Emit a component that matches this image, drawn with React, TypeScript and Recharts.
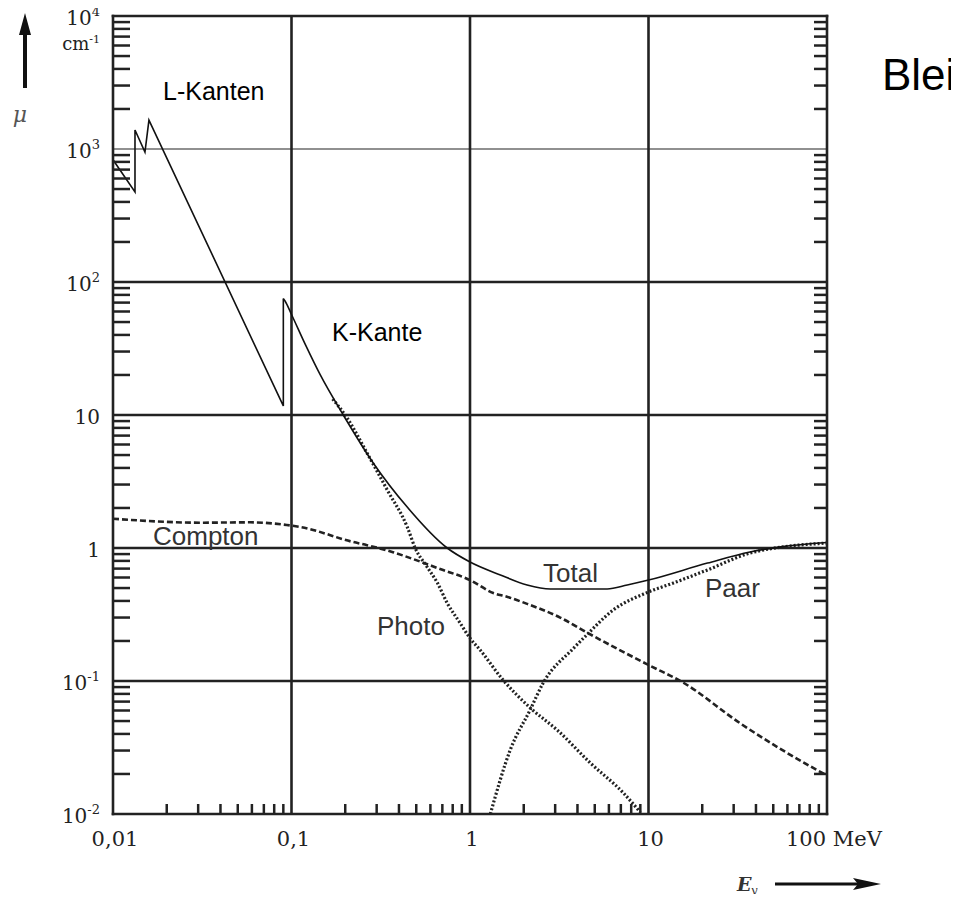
import { LineChart, Line, XAxis, YAxis, ReferenceLine } from "recharts";

// Bleiabsorption: mu in cm^-1 over photon energy in MeV
const totalEnergy = [0.01, 0.01328, 0.01328, 0.0151, 0.0159, 0.09, 0.09, 0.092, 0.1, 0.12, 0.145, 0.195, 0.287, 0.445, 0.745, 1, 1.48, 2.09, 2.82, 5.87, 7.6, 10, 21.4, 37, 55, 100];
const totalMu = [830, 475, 1390, 949, 1650, 11.7, 75, 72, 57, 33.5, 20, 10, 4.36, 2.03, 1.0, 0.785, 0.627, 0.527, 0.492, 0.492, 0.527, 0.574, 0.77, 0.933, 1.02, 1.1];

const photoEnergy = [0.17, 0.205, 0.265, 0.344, 0.445, 0.493, 0.575, 0.655, 0.745, 0.88, 1, 1.14, 1.53, 2.17, 3.08, 4.72, 7.23, 9.0];
const photoMu = [13.2, 9.5, 5.17, 2.73, 1.44, 1.0, 0.72, 0.55, 0.386, 0.273, 0.21, 0.171, 0.102, 0.063, 0.0428, 0.0242, 0.0144, 0.0103];

const comptonEnergy = [0.01, 0.031, 0.0586, 0.094, 0.112, 0.221, 0.265, 0.37, 0.48, 0.68, 1, 1.35, 1.61, 2.09, 3.2, 4.3, 10, 15.7, 32.7, 88, 100];
const comptonMu = [1.66, 1.55, 1.56, 1.49, 1.44, 1.11, 1.05, 0.93, 0.826, 0.695, 0.574, 0.459, 0.43, 0.38, 0.3, 0.24, 0.132, 0.097, 0.048, 0.0214, 0.0195];

const paarEnergy = [1.3, 1.68, 2.17, 2.57, 3.78, 4.4, 6.35, 10, 13.8, 21.4, 37.2, 100];
const paarMu = [0.01, 0.0303, 0.0605, 0.0966, 0.175, 0.215, 0.342, 0.467, 0.546, 0.684, 0.917, 1.09];

const xMajorTicks = [0.01, 0.1, 1, 10, 100];
const xMajorLabels = ["0,01", "0,1", "1", "10", "100 MeV"];
const yMajorTicks = [0.01, 0.1, 1, 10, 100, 1000, 10000];
const yMajorBase = ["10", "10", "1", "10", "10", "10", "10"];
const yMajorExp = ["-2", "-1", "", "", "2", "3", "4"];

const W = 959;
const H = 902;
const INK = "#222";
const LABEL = "#222";
const SERIF = "'DejaVu Serif', serif";
const SANS = "'Liberation Sans', Arial, sans-serif";

// 1..9 per decade between the major ticks
function withMinors(majors: number[]) {
  const out: number[] = [];
  for (let i = 0; i < majors.length - 1; i++) {
    for (let k = 1; k < 10; k++) out.push(majors[i] * k);
  }
  out.push(majors[majors.length - 1]);
  return out;
}

const xTicks = withMinors(xMajorTicks);
const yTicks = withMinors(yMajorTicks);

const toPoints = (es: number[], ms: number[]) => es.map((e, i) => ({ e, mu: ms[i] }));
const totalData = toPoints(totalEnergy, totalMu);
// the edges are vertical jumps, so draw them straight and smooth the rest
const kEdgeTop = 6;
const totalEdges = totalData.slice(0, kEdgeTop + 1);
const totalSmooth = totalData.slice(kEdgeTop);
const photoData = toPoints(photoEnergy, photoMu);
const comptonData = toPoints(comptonEnergy, comptonMu);
const paarData = toPoints(paarEnergy, paarMu);

const border = { stroke: INK, strokeWidth: 2.6, strokeLinecap: "square" as const };

function BottomTick(props: any) {
  const { x, y, payload } = props;
  const idx = xMajorTicks.indexOf(payload.value);
  if (idx < 0) {
    return <line x1={x} x2={x} y1={y} y2={y - 10} stroke={INK} strokeWidth={2.5} />;
  }
  const last = idx === xMajorTicks.length - 1;
  return (
    <text
      x={last ? x - 41 : x + 2}
      y={y + 32}
      textAnchor={last ? "start" : "middle"}
      fontFamily={SERIF}
      fontSize={21}
      fill={LABEL}
    >
      {xMajorLabels[idx]}
    </text>
  );
}

function TopTick(props: any) {
  const { x, y, payload } = props;
  if (xMajorTicks.includes(payload.value)) return <g />;
  return <line x1={x} x2={x} y1={y} y2={y + 10} stroke={INK} strokeWidth={2.5} />;
}

function LeftTick(props: any) {
  const { x, y, payload } = props;
  const idx = yMajorTicks.indexOf(payload.value);
  if (idx < 0) {
    return <line x1={x} x2={x + 17} y1={y} y2={y} stroke={INK} strokeWidth={2.5} />;
  }
  return (
    <g>
      <text x={x - 13} y={y + 9} textAnchor="end" fontFamily={SERIF} fontSize={20} fill={LABEL}>
        {yMajorBase[idx]}
        {yMajorExp[idx] && (
          <tspan fontSize={13} dy={-9}>
            {yMajorExp[idx]}
          </tspan>
        )}
      </text>
      {idx === yMajorTicks.length - 1 && (
        <text x={x - 13} y={y + 34} textAnchor="end" fontFamily={SERIF} fontSize={18} fill={LABEL}>
          cm
          <tspan fontSize={11} dy={-7}>
            -1
          </tspan>
        </text>
      )}
    </g>
  );
}

function RightTick(props: any) {
  const { x, y, payload } = props;
  if (yMajorTicks.includes(payload.value)) return <g />;
  return <line x1={x} x2={x - 13} y1={y} y2={y} stroke={INK} strokeWidth={2.5} />;
}

export default function App() {
  const gridY = yMajorTicks.filter((v) => v > 0.01 && v < 10000);
  const gridX = xMajorTicks.filter((v) => v > 0.01 && v < 100);
  return (
    <div style={{ position: "relative", width: W, height: H, margin: -8 }}>
      <LineChart width={W} height={H} margin={{ top: 15, right: 131, bottom: 87, left: 112 }}>
        <XAxis
          dataKey="e"
          type="number"
          scale="log"
          domain={[0.01, 100]}
          allowDataOverflow
          ticks={xTicks}
          interval={0}
          tickSize={0}
          tickMargin={0}
          height={1}
          tickLine={false}
          axisLine={border}
          tick={BottomTick}
        />
        <XAxis
          xAxisId="top"
          orientation="top"
          type="number"
          scale="log"
          domain={[0.01, 100]}
          allowDataOverflow
          ticks={xTicks}
          interval={0}
          tickSize={0}
          tickMargin={0}
          height={1}
          tickLine={false}
          axisLine={border}
          tick={TopTick}
        />
        <YAxis
          type="number"
          scale="log"
          domain={[0.01, 10000]}
          allowDataOverflow
          ticks={yTicks}
          interval={0}
          tickSize={0}
          tickMargin={0}
          width={1}
          tickLine={false}
          axisLine={border}
          tick={LeftTick}
        />
        <YAxis
          yAxisId="right"
          orientation="right"
          type="number"
          scale="log"
          domain={[0.01, 10000]}
          allowDataOverflow
          ticks={yTicks}
          interval={0}
          tickSize={0}
          tickMargin={0}
          width={1}
          tickLine={false}
          axisLine={border}
          tick={RightTick}
        />
        {gridY.map((v) => (
          <ReferenceLine key={"gy" + v} y={v} stroke={INK} strokeWidth={v === 1000 ? 1.2 : 2.6} />
        ))}
        {gridX.map((v) => (
          <ReferenceLine key={"gx" + v} x={v} stroke={INK} strokeWidth={2.6} />
        ))}
        <Line data={comptonData} dataKey="mu" type="monotone" stroke="#222" strokeWidth={2.6} strokeDasharray="6 3" dot={false} isAnimationActive={false} />
        <Line data={photoData} dataKey="mu" type="monotone" stroke="#222" strokeWidth={3.2} strokeDasharray="2 2" dot={false} isAnimationActive={false} />
        <Line data={paarData} dataKey="mu" type="monotone" stroke="#222" strokeWidth={3.2} strokeDasharray="2 2" dot={false} isAnimationActive={false} />
        <Line data={totalEdges} dataKey="mu" type="linear" stroke="#111" strokeWidth={1.6} dot={false} isAnimationActive={false} />
        <Line data={totalSmooth} dataKey="mu" type="monotone" stroke="#111" strokeWidth={1.6} dot={false} isAnimationActive={false} />
      </LineChart>
      <svg
        width={W}
        height={H}
        style={{ position: "absolute", left: 0, top: 0, overflow: "visible", pointerEvents: "none" }}
      >
        {/* y axis arrow with mu */}
        <line x1={25} x2={25} y1={88} y2={30} stroke="#111" strokeWidth={4} />
        <polygon points="25,13 19,35 31,35" fill="#111" />
        <text x={20} y={122} textAnchor="middle" fontFamily={SERIF} fontStyle="italic" fontSize={22} fill="#555">
          μ
        </text>
        {/* x axis arrow with E_gamma */}
        <text x={737} y={891} fontFamily={SERIF} fontStyle="italic" fontWeight="bold" fontSize={19} fill="#333">
          E
          <tspan fontSize={14} dy={4} fontWeight="normal" fontStyle="normal" fontFamily="'Liberation Serif', serif">
            γ
          </tspan>
        </text>
        <line x1={775} x2={858} y1={884} y2={884} stroke="#111" strokeWidth={3} />
        <polygon points="881,884 853,878 858,884 853,890" fill="#111" />
        {/* annotations */}
        <text x={163} y={100} fontFamily={SANS} fontSize={25} fill="#000">L-Kanten</text>
        <text x={332} y={341} fontFamily={SANS} fontSize={25} fill="#000">K-Kante</text>
        <text x={153} y={545} fontFamily={SANS} fontSize={26} fill="#333">Compton</text>
        <text x={377} y={635} fontFamily={SANS} fontSize={26} fill="#333">Photo</text>
        <text x={543} y={582} fontFamily={SANS} fontSize={26} fill="#333">Total</text>
        <text x={705} y={597} fontFamily={SANS} fontSize={26} fill="#333">Paar</text>
        <text x={882} y={90} fontFamily={SANS} fontSize={44} fill="#000">Blei</text>
      </svg>
    </div>
  );
}
